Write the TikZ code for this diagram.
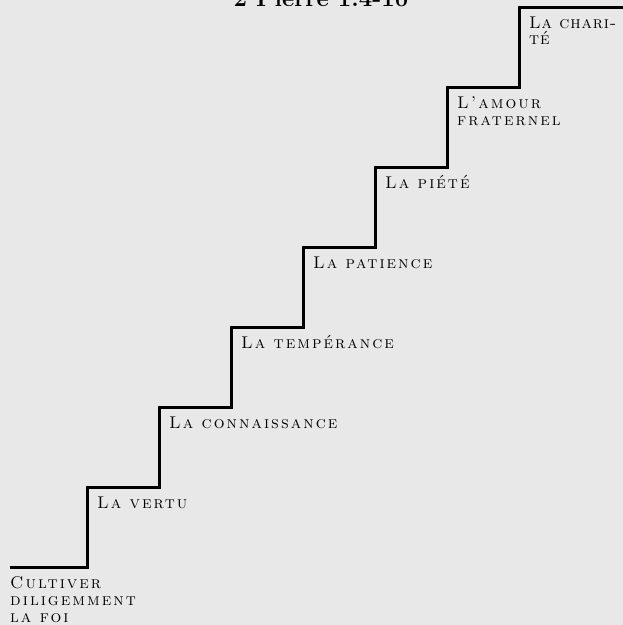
\documentclass[tikz,border=0pt]{standalone}
\usepackage{fontspec}
\newfontfamily\capsfont{lmromancaps10-regular.otf}[LetterSpace=12]
\definecolor{bg}{HTML}{E8E8E8}
\begin{document}
\begin{tikzpicture}[x=1pt,y=-1pt,
  lbl/.style={anchor=base west, inner sep=0pt, font=\capsfont\fontsize{17}{17}\selectfont, align=left},
  tight/.style={font=\capsfont\fontsize{17}{16}\selectfont\addfontfeature{LetterSpace=5}},
  stair/.style={line width=3pt, line join=miter}]
\fill[bg] (0,0) rectangle (623,625);
\useasboundingbox (0,0) rectangle (623,625);
\coordinate (s0) at (10,567);
\coordinate (s1) at (87,487);
\coordinate (s2) at (159,407);
\coordinate (s3) at (231,327);
\coordinate (s4) at (303,247);
\coordinate (s5) at (375,167);
\coordinate (s6) at (447,87);
\coordinate (s7) at (519,7);
\coordinate (s8) at (623,7);
\draw[stair] (s0) -| (s1) -| (s2) -| (s3) -| (s4) -| (s5) -| (s6) -| (s7) -- (s8);
\node[font=\bfseries\fontsize{24}{24}\selectfont, anchor=base, inner sep=0pt] (title) at (321,6) {2 Pierre 1.4-10};
\node[lbl] (l0) at (10,622) {Cultiver\\diligemment\\la foi};
\node[lbl] (l1) at (97,508) {La vertu};
\node[lbl] (l2) at (169,428) {La connaissance};
\node[lbl] (l3) at (241,348) {La tempérance};
\node[lbl] (l4) at (313,268) {La patience};
\node[lbl] (l5) at (385,188) {La piété};
\node[lbl] (l6) at (457,125) {L’amour\\fraternel};
\node[lbl, tight] (l7) at (529,44) {La chari-\\té};
\end{tikzpicture}
\end{document}
